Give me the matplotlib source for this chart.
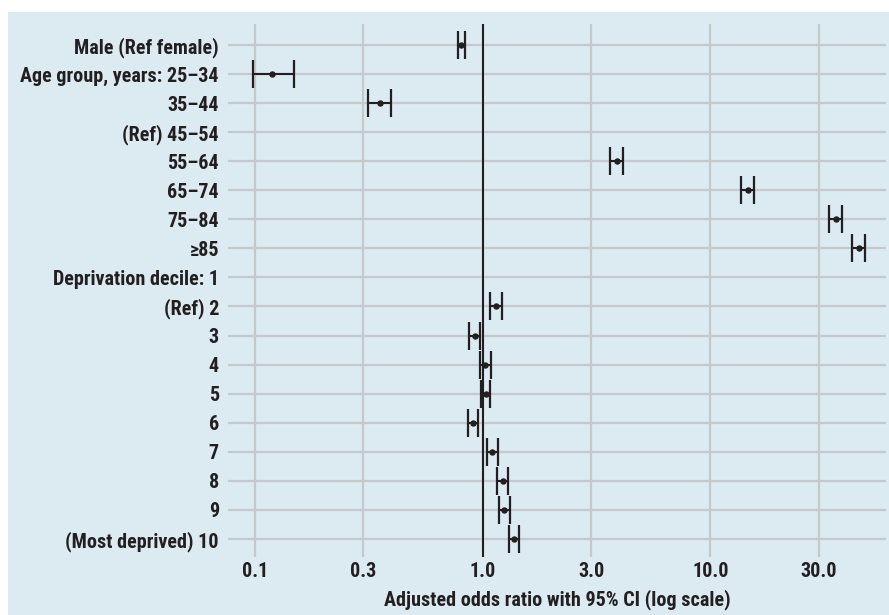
import matplotlib
matplotlib.use("Agg")
import matplotlib.pyplot as plt
import numpy as np
from matplotlib.patches import Rectangle

# row labels, top to bottom
labels = [
    "Male (Ref female)",
    "Age group, years: 25\u201334",
    "35\u201344",
    "(Ref) 45\u201354",
    "55\u201364",
    "65\u201374",
    "75\u201384",
    "\u226585",
    "Deprivation decile: 1",
    "(Ref) 2",
    "3", "4", "5", "6", "7", "8", "9",
    "(Most deprived) 10",
]
# adjusted odds ratios and 95% CI (nan = reference / not shown)
odds = [0.806, 0.119, 0.355, np.nan, 3.88, 14.6, 35.6, 44.8, np.nan,
        1.144, 0.929, 1.027, 1.031, 0.907, 1.103, 1.228, 1.245, 1.371]
ci_low = [0.779, 0.0985, 0.315, np.nan, 3.62, 13.6, 33.2, 41.9, np.nan,
          1.077, 0.871, 0.970, 0.980, 0.865, 1.048, 1.156, 1.176, 1.300]
ci_high = [0.834, 0.148, 0.395, np.nan, 4.15, 15.6, 37.8, 47.8, np.nan,
           1.212, 0.977, 1.088, 1.081, 0.957, 1.164, 1.297, 1.314, 1.445]
xticks = [0.1, 0.3, 1.0, 3.0, 10.0, 30.0]

BG = "#dceaf2"
GRID = "#c6c9cc"
INK = "#231f20"
FONT = ["Roboto Condensed", "Roboto", "DejaVu Sans"]

plt.rcParams["font.family"] = FONT
plt.rcParams["font.weight"] = "bold"
plt.rcParams["axes.labelweight"] = "bold"

W, H = 889, 615
fig = plt.figure(figsize=(W / 100, H / 100), dpi=100)
fig.patch.set_facecolor("white")
fig.add_artist(Rectangle((8 / W, 0), 1 - 8 / W, 1 - 12 / H,
                         transform=fig.transFigure, facecolor=BG,
                         edgecolor="none", zorder=0))

left, right, top, bottom = 228, 886, 24, 557
ax = fig.add_axes([left / W, 1 - bottom / H, (right - left) / W, (bottom - top) / H])
ax.set_facecolor("none")

y = np.arange(len(labels))
odds = np.array(odds)
lo = np.array(ci_low)
hi = np.array(ci_high)

for yy in y:
    ax.axhline(yy, color=GRID, lw=1.6, zorder=1)
for xx in xticks:
    ax.axvline(xx, color=GRID, lw=1.6, zorder=1)
ax.axvline(1.0, color=INK, lw=1.5, zorder=2)

ok = ~np.isnan(odds)
ax.errorbar(odds[ok], y[ok], xerr=[odds[ok] - lo[ok], hi[ok] - odds[ok]],
            fmt="o", ms=3.6, color=INK, ecolor=INK, elinewidth=1.5,
            capsize=10, capthick=1.6, zorder=3)

ax.set_xscale("log")
ax.set_xlim(0.0763, 59)
ax.set_ylim(17.62, -0.72)
ax.set_yticks(y)
ax.set_yticklabels(labels)
ax.set_xticks(xticks)
ax.set_xticklabels([f"{v:.1f}" for v in xticks])
ax.minorticks_off()
ax.tick_params(axis="both", length=0, labelsize=14.5, labelcolor=INK)
ax.tick_params(axis="y", pad=6.5)
ax.tick_params(axis="x", pad=3.5)
for s in ax.spines.values():
    s.set_visible(False)
ax.set_xlabel("Adjusted odds ratio with 95% CI (log scale)", fontsize=14.5,
              color=INK, labelpad=6)

fig.savefig("out.png", dpi=100)
